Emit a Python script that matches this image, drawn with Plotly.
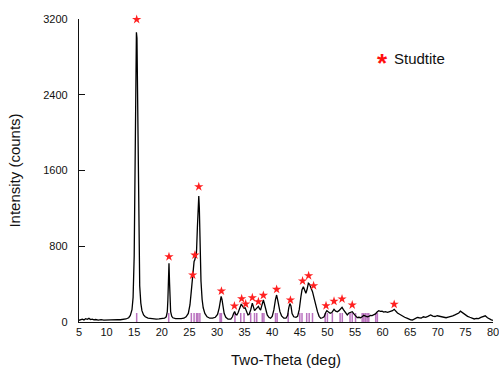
import plotly.graph_objects as go

# Measured XRD profile (two-theta in degrees, intensity in counts)
two_theta = [
    5.0, 5.3, 5.6, 5.9, 6.2, 6.5, 6.8, 7.1, 7.4, 7.7, 8.0, 8.5, 9.0, 9.5, 10.0, 10.5, 11.0, 11.5,
    12.0, 12.5, 13.0, 13.5, 14.0, 14.3, 14.6, 14.8, 15.0, 15.1, 15.2, 15.3, 15.4, 15.5, 15.6, 15.7,
    15.8, 15.9, 16.0, 16.2, 16.4, 16.7, 17.0, 17.5, 18.0, 18.5, 19.0, 19.5, 20.0, 20.5, 20.8, 21.0,
    21.1, 21.2, 21.3, 21.4, 21.5, 21.6, 21.8, 22.0, 22.5, 23.0, 23.5, 24.0, 24.4, 24.8, 25.1, 25.3,
    25.5, 25.7, 25.85, 26.0, 26.1, 26.2, 26.3, 26.45, 26.6, 26.7, 26.8, 26.9, 27.0, 27.1, 27.3, 27.5,
    27.8, 28.2, 28.7, 29.2, 29.7, 30.1, 30.4, 30.6, 30.75, 30.9, 31.1, 31.3, 31.6, 32.0, 32.5, 32.8,
    33.0, 33.2, 33.4, 33.6, 33.8, 34.1, 34.4, 34.6, 34.9, 35.1, 35.3, 35.6, 35.8, 36.1, 36.4, 36.6,
    36.8, 37.0, 37.3, 37.5, 37.7, 37.9, 38.1, 38.4, 38.6, 38.9, 39.1, 39.4, 39.7, 40.0, 40.3, 40.6,
    40.8, 41.0, 41.2, 41.4, 41.7, 42.1, 42.5, 42.8, 43.0, 43.2, 43.4, 43.6, 43.9, 44.3, 44.6, 44.9,
    45.2, 45.4, 45.65, 45.9, 46.1, 46.3, 46.55, 46.75, 47.0, 47.3, 47.6, 47.9, 48.2, 48.5, 48.8, 49.1,
    49.4, 49.7, 49.9, 50.2, 50.5, 50.8, 51.0, 51.2, 51.5, 51.8, 52.1, 52.4, 52.65, 52.9, 53.3, 53.6,
    53.9, 54.2, 54.5, 54.8, 55.1, 55.4, 55.7, 56.0, 56.3, 56.6, 56.9, 57.2, 57.5, 57.8, 58.1, 58.4,
    58.7, 59.0, 59.3, 59.6, 59.9, 60.2, 60.5, 60.9, 61.2, 61.5, 61.8, 62.1, 62.4, 62.7, 63.0, 63.3,
    63.6, 64.0, 64.5, 64.8, 65.1, 65.4, 65.7, 66.0, 66.3, 66.6, 67.0, 67.4, 67.8, 68.2, 68.7, 69.1,
    69.5, 69.9, 70.3, 70.7, 71.1, 71.5, 71.9, 72.3, 72.7, 73.1, 73.5, 73.8, 74.1, 74.4, 74.7, 75.0,
    75.4, 75.8, 76.2, 76.6, 77.0, 77.4, 77.8, 78.2, 78.6, 79.0, 79.4, 79.7, 80.0,
]
intensity = [
    18, 25, 30, 22, 35, 28, 38, 25, 30, 22, 26, 20, 24, 20, 22, 20, 23, 22,
    25, 24, 28, 32, 45, 70, 130, 260, 700, 1300, 2100, 2800, 3060, 3000, 2500, 1700,
    1000, 600, 380, 200, 120, 75, 55, 42, 36, 33, 30, 32, 34, 40, 55, 110,
    230, 500, 620, 420, 200, 110, 60, 45, 35, 32, 35, 40, 55, 90, 180, 300,
    440, 560, 640, 660, 700, 680, 760, 1000, 1250, 1330, 1200, 900, 620, 430, 240, 150,
    90, 55, 40, 40, 50, 80, 150, 230, 270, 240, 150, 90, 50, 30, 30, 55,
    90, 110, 80, 75, 95, 150, 190, 170, 145, 150, 120, 75, 80, 127, 200, 150,
    120, 134, 160, 165, 140, 127, 170, 232, 190, 110, 74, 50, 40, 60, 127, 240,
    285, 230, 150, 109, 65, 40, 40, 70, 150, 195, 170, 90, 55, 50, 60, 130,
    267, 340, 373, 320, 303, 340, 409, 400, 366, 320, 250, 170, 109, 60, 39, 45,
    56, 100, 120, 105, 92, 100, 125, 134, 115, 109, 120, 145, 155, 130, 92, 75,
    95, 105, 109, 85, 60, 46, 50, 45, 55, 70, 63, 55, 60, 70, 68, 74,
    85, 105, 120, 112, 115, 105, 110, 102, 108, 112, 120, 134, 110, 95, 85, 74,
    60, 50, 39, 30, 22, 21, 30, 38, 49, 45, 42, 55, 50, 60, 75, 62,
    58, 66, 60, 55, 50, 45, 52, 55, 65, 75, 85, 95, 115, 100, 85, 70,
    60, 50, 40, 32, 38, 35, 48, 56, 65, 45, 30, 22, 18,
]

# Studtite peak markers (two-theta, intensity)
star_theta = [15.45, 21.3, 25.6, 26.0, 26.7, 30.8, 33.15, 34.47, 35.2, 36.4, 37.5, 38.4, 40.8,
              43.3, 45.5, 46.6, 47.5, 49.75, 51.2, 52.65, 54.5, 62.1]
star_int = [3195, 690, 496, 707, 1429, 327, 169, 246, 190, 257, 214, 282, 345,
            232, 433, 489, 383, 172, 219, 243, 180, 187]

# Reference pattern stick positions and heights
ref_theta = [15.45, 21.25, 25.35, 25.85, 26.3, 26.55, 26.9, 30.55, 30.8, 33.25, 34.3, 34.9,
             36.1, 36.8, 37.2, 38.2, 38.5, 40.6, 40.9, 42.9, 45.0, 45.4, 46.25, 46.7, 47.3,
             49.6, 50.0, 50.9, 52.3, 52.7, 54.1, 54.5, 55.1, 56.3, 56.6, 56.9, 57.2, 57.5,
             58.75, 59.05]
ref_height = [95] * len(ref_theta)

x_ticks = list(range(5, 81, 5))
y_ticks = [0, 800, 1600, 2400, 3200]

FONT = "Arial, Liberation Sans, sans-serif"

stick_x, stick_y = [], []
for t, h in zip(ref_theta, ref_height):
    stick_x += [t, t, None]
    stick_y += [0, h, None]

fig = go.Figure()
fig.add_trace(go.Scatter(x=stick_x, y=stick_y, mode="lines",
                         line=dict(color="rgba(140,20,150,0.6)", width=1.5),
                         showlegend=False, hoverinfo="skip"))
fig.add_trace(go.Scatter(x=two_theta, y=intensity, mode="lines",
                         line=dict(color="black", width=1.3), showlegend=False))
fig.add_trace(go.Scatter(x=star_theta, y=star_int, mode="markers",
                         marker=dict(symbol="star", size=7, color="#ff2020", line=dict(width=0)),
                         cliponaxis=False, showlegend=False))

fig.update_layout(
    width=499, height=370,
    margin=dict(l=79, r=6, t=19, b=48, autoexpand=False),
    paper_bgcolor="white", plot_bgcolor="white",
    font=dict(family=FONT, color="#111", size=11),
    showlegend=False,
    xaxis=dict(range=[5, 80], tickvals=x_ticks, ticks="", showline=True, linecolor="#111",
               linewidth=1.2, showgrid=False, zeroline=False, tickfont=dict(size=11),
               ticklabeloverflow="allow", automargin=False,
               title=dict(text="Two-Theta (deg)", font=dict(size=15), standoff=17)),
    yaxis=dict(range=[0, 3200], tickvals=y_ticks, ticks="inside", ticklen=6, tickcolor="#111",
               showline=True, linecolor="#111", linewidth=1.2, showgrid=False, zeroline=False,
               tickfont=dict(size=11), ticklabelstandoff=8, automargin=False,
               title=dict(text="Intensity (counts)", font=dict(size=15), standoff=18)),
    annotations=[
        dict(text="<b>*</b>", xref="paper", yref="paper", x=0.734, y=0.868,
             xanchor="center", yanchor="middle", showarrow=False, yshift=-4,
             font=dict(size=26, color="#ff1010")),
        dict(text="Studtite", xref="paper", yref="paper", x=0.757, y=0.868,
             xanchor="left", yanchor="middle", showarrow=False,
             font=dict(size=15, color="#111")),
    ],
)

# Remove the browser's default 8px body margin so the 499x370 figure fills the window.
fig.write_html("out.html", config={"displayModeBar": False},
               post_script="document.body.style.margin='0';document.body.style.overflow='hidden';")
